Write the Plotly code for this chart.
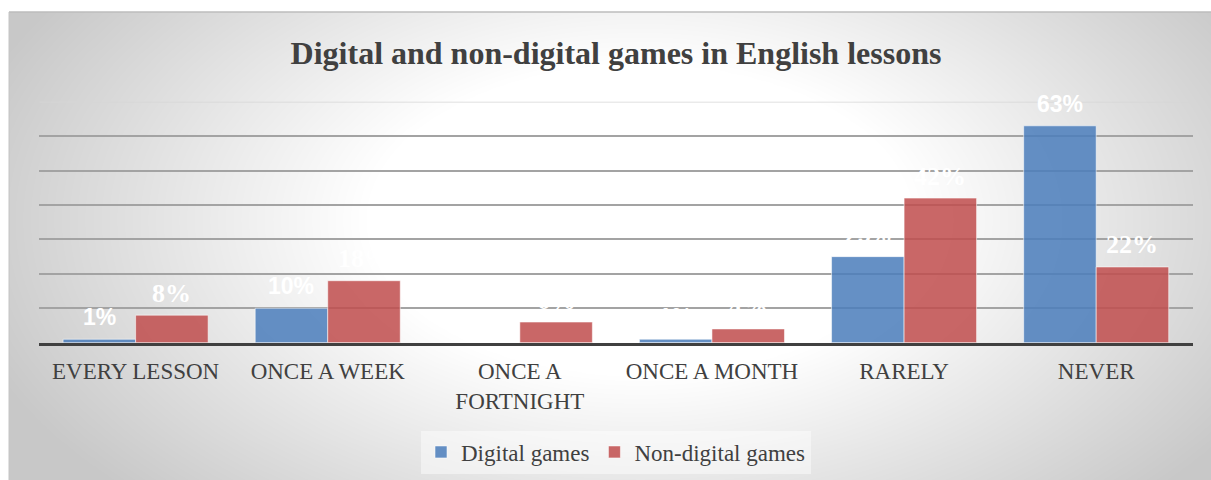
import numpy as np
import plotly.graph_objects as go

categories = ["EVERY LESSON", "ONCE A WEEK", "ONCE A FORTNIGHT", "ONCE A MONTH", "RARELY", "NEVER"]
tick_labels = ["EVERY LESSON", "ONCE A WEEK", "ONCE A<br>FORTNIGHT", "ONCE A MONTH", "RARELY", "NEVER"]
digital = [1, 10, 0, 1, 25, 63]
non_digital = [8, 18, 6, 4, 42, 22]
series_names = ["Digital games", "Non-digital games"]
title_text = "Digital and non-digital games in English lessons"

SERIF = "Liberation Serif, Times New Roman, serif"
SANS = "Liberation Sans, Arial, sans-serif"

W, H = 1211, 480
fig = go.Figure()

# background gradient (grey edges, white centre)
px_x = np.linspace(9, W, 240)
px_y = np.linspace(12, H, 80)
PX, PY = np.meshgrid(px_x, px_y)
dx = (PX - 640) / 600
dy = (PY - 220) / 240 * 0.7
r = np.sqrt(dx ** 2 + dy ** 2)
shade = 255 - np.clip(50 * (r - 0.45) / 0.65, 0, 55)
gx = (px_x - 9) / (W - 9)
gy = 1 - (px_y - 12) / (H - 12)
fig.add_trace(go.Heatmap(
    x=gx, y=gy, z=shade, zmin=0, zmax=255, zsmooth="best",
    colorscale=[[0, "rgb(0,0,0)"], [1, "rgb(255,255,255)"]],
    showscale=False, hoverinfo="skip", xaxis="x", yaxis="y"))

blue = "rgba(76,126,188,0.86)"
red = "rgba(192,78,78,0.86)"
fig.add_trace(go.Bar(x=categories, y=digital, name=series_names[0],
                     marker=dict(color=blue, line=dict(color="rgba(255,255,255,0.55)", width=1)),
                     xaxis="x2", yaxis="y2"))
fig.add_trace(go.Bar(x=categories, y=non_digital, name=series_names[1],
                     marker=dict(color=red, line=dict(color="rgba(255,255,255,0.55)", width=1)),
                     xaxis="x2", yaxis="y2"))

plot_x0, plot_x1 = 38.8, 1193
plot_top, plot_bot = 101.7, 342.7
cat_w = (plot_x1 - plot_x0) / len(categories)
bargap = 0.245
bar_w = cat_w * (1 - bargap) / 2

annotations = []
for c, v in zip(categories, digital):
    annotations.append(dict(x=c, y=v, xref="x2", yref="y2", text=f"{v}%", showarrow=False,
                            xshift=-bar_w / 2, yshift=22, yanchor="middle",
                            font=dict(family=SANS, size=23, color="white", weight="bold")))
for c, v in zip(categories, non_digital):
    annotations.append(dict(x=c, y=v, xref="x2", yref="y2", text=f"{v}%", showarrow=False,
                            xshift=bar_w / 2, yshift=22, yanchor="middle",
                            font=dict(family=SERIF, size=26, color="white", weight="bold")))

fig.update_layout(
    width=W, height=H,
    margin=dict(l=0, r=0, t=0, b=0),
    paper_bgcolor="white", plot_bgcolor="rgba(0,0,0,0)",
    barmode="group", bargap=bargap, bargroupgap=0,
    title=dict(text=title_text, x=616 / W, y=1 - 53 / H, xanchor="center", yanchor="middle",
               font=dict(family=SERIF, size=32, color="#404040", weight="bold")),
    xaxis=dict(domain=[9 / W, 1], range=[0, 1], visible=False, fixedrange=True),
    yaxis=dict(domain=[0, 1 - 12 / H], range=[0, 1], visible=False, fixedrange=True),
    xaxis2=dict(domain=[plot_x0 / W, plot_x1 / W], anchor="y2", tickmode="array",
                tickvals=categories, ticktext=tick_labels, showgrid=False,
                showline=True, linecolor="#404040", linewidth=3, ticks="",
                ticklabelstandoff=6,
                tickfont=dict(family=SERIF, size=23, color="#404040")),
    yaxis2=dict(domain=[1 - plot_bot / H, 1 - plot_top / H], anchor="x2", range=[0, 70],
                tickvals=[10, 20, 30, 40, 50, 60], showticklabels=False,
                showgrid=True, gridcolor="#a3a3a3", gridwidth=1.5, zeroline=False),
    legend=dict(orientation="h", x=616 / W, y=1 - 452 / H, xanchor="center", yanchor="middle",
                bgcolor="rgba(255,255,255,0.45)", font=dict(family=SERIF, size=23, color="#404040"),
                itemwidth=30),
    annotations=annotations,
    shapes=[
        dict(type="line", xref="x2", yref="y2", x0=-0.5, x1=5.5, y0=70, y1=70,
             line=dict(color="#d6d6d6", width=1.5), layer="below"),
        dict(type="line", xref="paper", yref="paper", x0=9 / W, x1=1, y0=1 - 12 / H, y1=1 - 12 / H,
             line=dict(color="#bdbdbd", width=1.5)),
        dict(type="line", xref="paper", yref="paper", x0=9 / W, x1=9 / W, y0=0, y1=1 - 12 / H,
             line=dict(color="#c4c4c4", width=1)),
    ],
)

fig.write_html("out.html", config={"displayModeBar": False},
               post_script="document.body.style.margin='0px';")
